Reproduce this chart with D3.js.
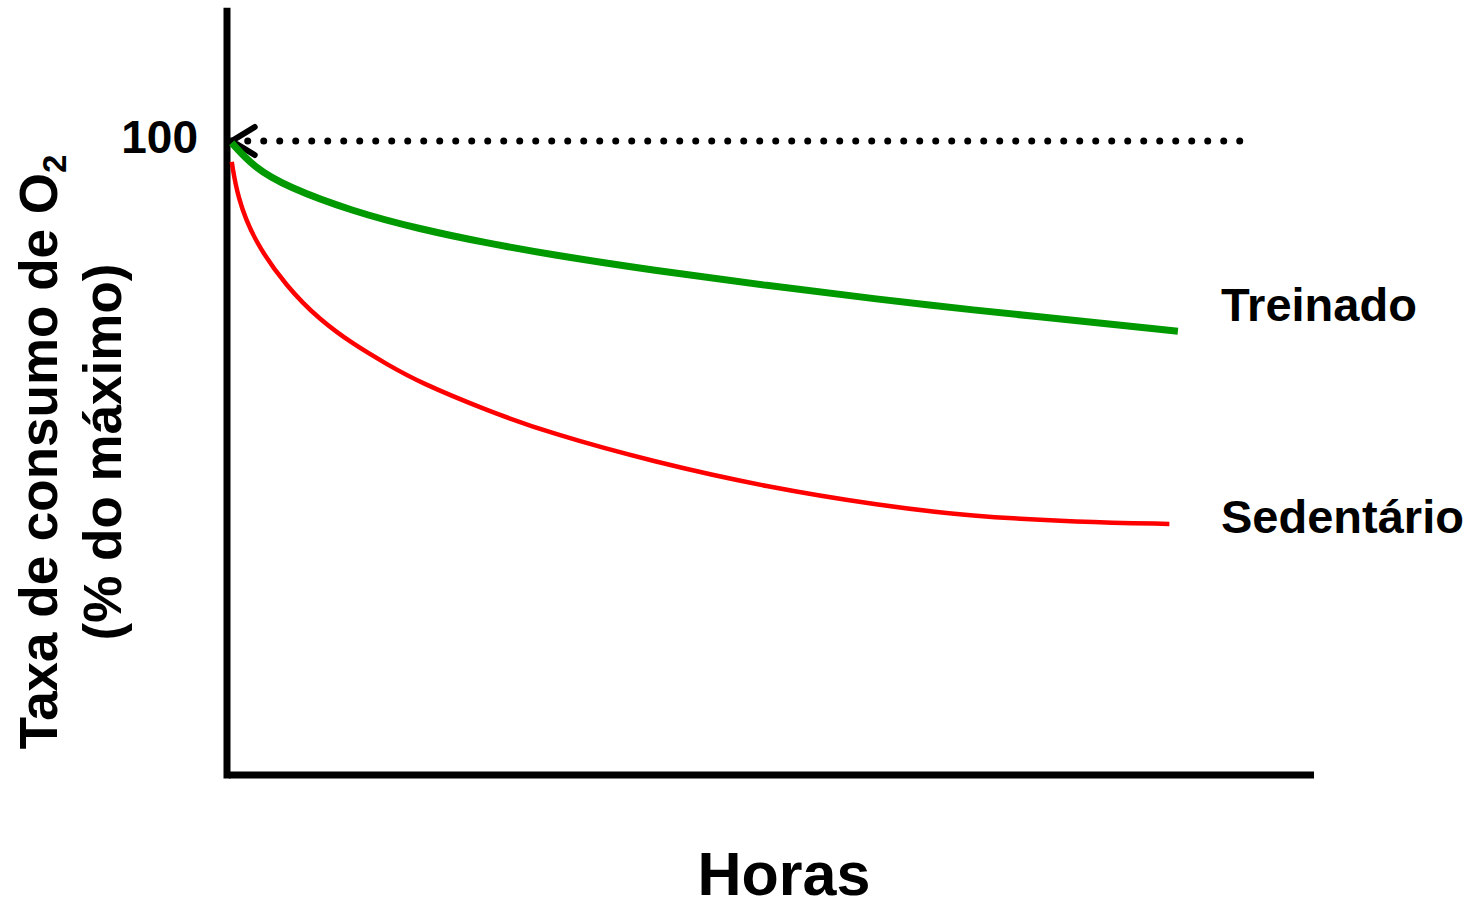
<!DOCTYPE html>
<html>
<head>
<meta charset="utf-8">
<script src="https://cdn.jsdelivr.net/npm/d3@7"></script>
<style>
  body { margin: 0; background: #fff; }
  text { font-family: "Liberation Sans", Arial, sans-serif; font-weight: bold; fill: #000; }
</style>
</head>
<body>
<div id="chart"></div>
<script>
// --- Données ---
const treinadoHoras = [0.05, 0.28, 0.63, 1.33, 2.04, 2.75, 3.42, 4.51, 5.71, 6.91, 7.86, 9.02, 10.06];
const treinadoValores = [99.7, 95.9, 92.8, 88.9, 86.1, 83.9, 82.1, 79.6, 77.2, 75.0, 73.4, 71.6, 70.0];

const sedentarioHoras = [0.05, 0.11, 0.28, 0.63, 0.98, 1.33, 1.69, 2.04, 2.75, 3.42, 4.51, 5.71, 6.91, 7.86, 9.02, 9.97];
const sedentarioValores = [96.7, 91.2, 84.4, 77.0, 71.8, 68.0, 64.8, 61.9, 57.5, 53.9, 49.4, 45.4, 42.5, 40.8, 39.9, 39.6];

const seriesNomes = ["Treinado", "Sedentário"];
const seriesCores = ["#009900", "#ff0000"];
const referencia = 100;        // ligne pointillée
const refFimHoras = 10.72;     // fin de la ligne pointillée

const width = 1473, height = 902;

const svg = d3.select("#chart")
  .append("svg")
  .attr("width", width)
  .attr("height", height);

// --- Scales ---
const x = d3.scaleLinear().domain([0, 11.5]).range([227, 1314]);
const y = d3.scaleLinear().domain([0, 100]).range([775, 141]);

// --- Axes (simples traits) ---
svg.append("line")
  .attr("x1", x(0)).attr("x2", x(0))
  .attr("y1", y(0) + 3.5).attr("y2", y(121))
  .attr("stroke", "#000").attr("stroke-width", 7);

svg.append("line")
  .attr("x1", x(0) + 2).attr("x2", x(11.5))
  .attr("y1", y(0)).attr("y2", y(0))
  .attr("stroke", "#000").attr("stroke-width", 7);

// Ligne pointillée à 100
svg.append("line")
  .attr("x1", x(0.05)).attr("x2", x(refFimHoras))
  .attr("y1", y(referencia)).attr("y2", y(referencia))
  .attr("stroke", "#000")
  .attr("stroke-width", 7)
  .attr("stroke-linecap", "round")
  .attr("stroke-dasharray", "0,16");

// Chevron
const tipX = x(0.05), tipY = y(referencia);
svg.append("path")
  .attr("d", `M${tipX + 23},${tipY - 14}L${tipX},${tipY}L${tipX + 23},${tipY + 14}`)
  .attr("fill", "none")
  .attr("stroke", "#000")
  .attr("stroke-width", 6)
  .attr("stroke-linecap", "round")
  .attr("stroke-linejoin", "round");

// --- Courbes ---
const line = d3.line()
  .x(d => x(d[0]))
  .y(d => y(d[1]))
  .curve(d3.curveBasis);

const sedData = d3.zip(sedentarioHoras, sedentarioValores);
const trData = d3.zip(treinadoHoras, treinadoValores);

svg.append("path")
  .datum(sedData)
  .attr("d", line)
  .attr("fill", "none")
  .attr("stroke", seriesCores[1])
  .attr("stroke-width", 4.5);

svg.append("path")
  .datum(trData)
  .attr("d", line)
  .attr("fill", "none")
  .attr("stroke", seriesCores[0])
  .attr("stroke-width", 7);

// --- Étiquettes des séries ---
svg.append("text")
  .attr("x", 1221)
  .attr("y", 321)
  .style("font-size", "47px")
  .text(seriesNomes[0]);

svg.append("text")
  .attr("x", 1221)
  .attr("y", 533)
  .style("font-size", "47px")
  .text(seriesNomes[1]);

// Tick 100
svg.append("text")
  .attr("x", 198)
  .attr("y", 153)
  .attr("text-anchor", "end")
  .style("font-size", "46px")
  .text(String(referencia));

// Label X
svg.append("text")
  .attr("x", 784)
  .attr("y", 895)
  .attr("text-anchor", "middle")
  .style("font-size", "61px")
  .text("Horas");

// Label Y (deux lignes)
const yl1 = svg.append("text")
  .attr("transform", "translate(57,452) rotate(-90)")
  .attr("text-anchor", "middle")
  .style("font-size", "53px");
yl1.append("tspan").text("Taxa de consumo de O");
yl1.append("tspan").attr("dy", 9).style("font-size", "33px").text("2");

svg.append("text")
  .attr("transform", "translate(121,452) rotate(-90)")
  .attr("text-anchor", "middle")
  .style("font-size", "53px")
  .text("(% do máximo)");
</script>
</body>
</html>
